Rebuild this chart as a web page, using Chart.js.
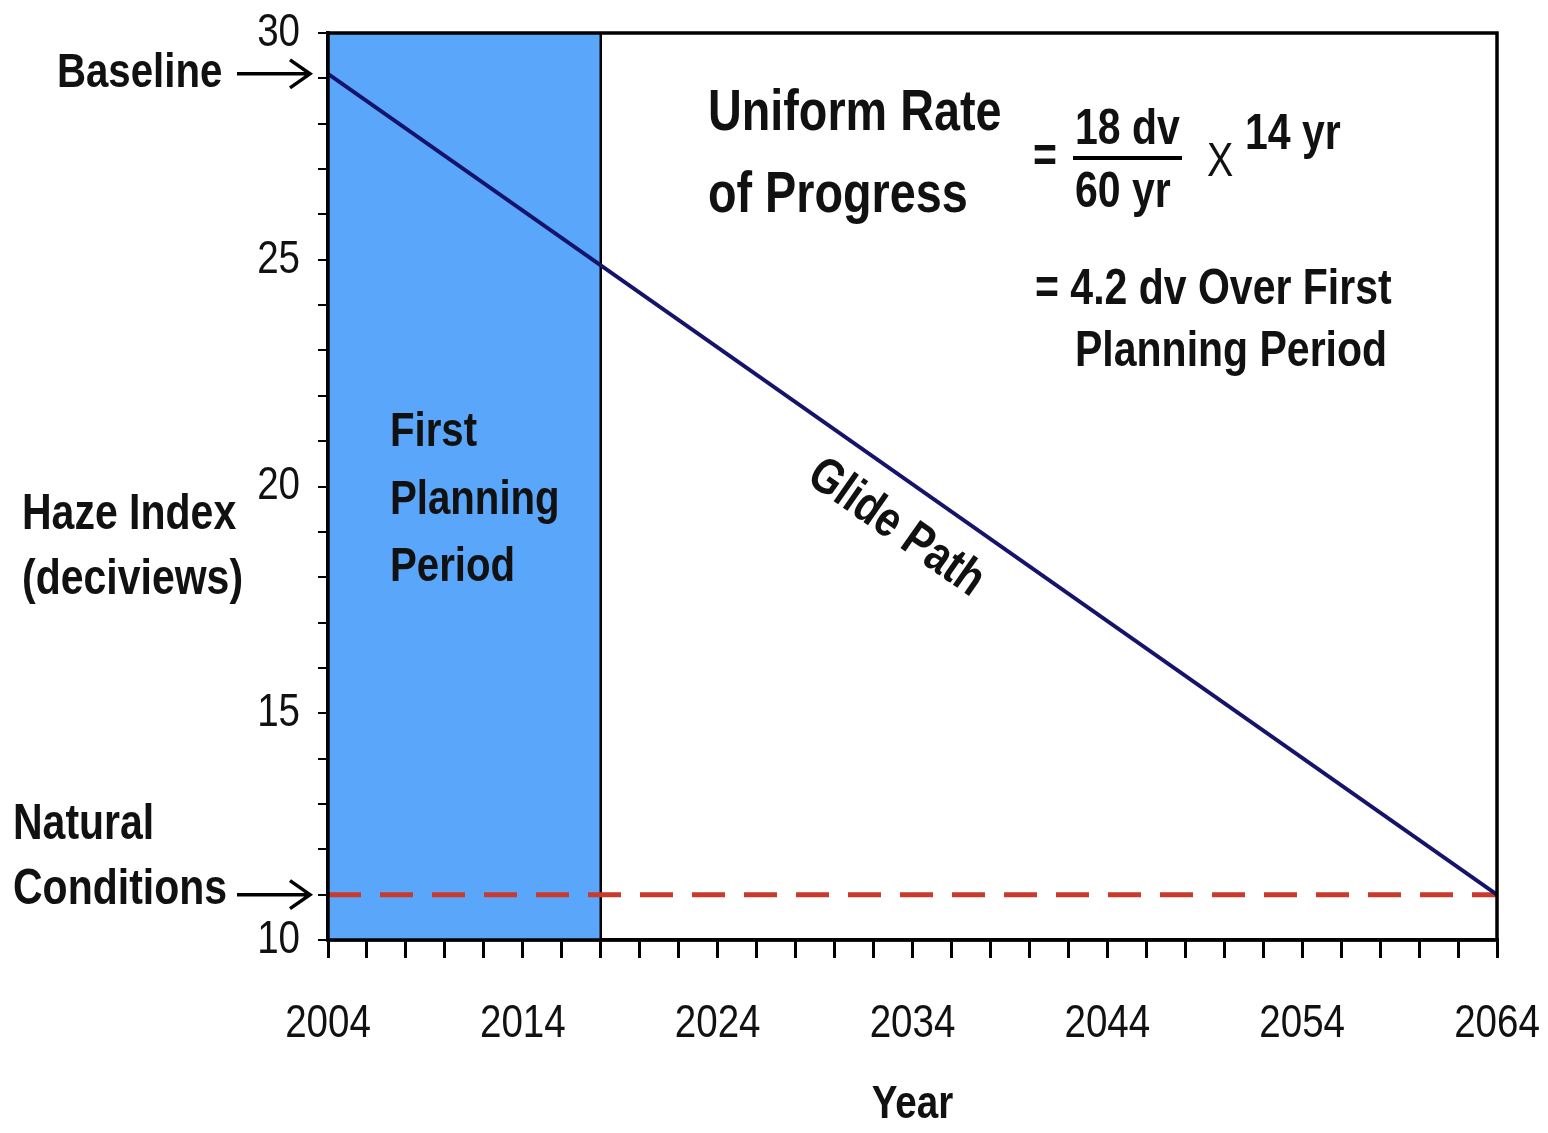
<!DOCTYPE html>
<html>
<head>
<meta charset="utf-8">
<script src="https://cdn.jsdelivr.net/npm/chart.js@4.4.1/dist/chart.umd.min.js"></script>
<style>
  html, body { margin: 0; padding: 0; background: #fff; }
  #wrap { width: 1548px; height: 1133px; }
</style>
</head>
<body>
<div id="wrap"><canvas id="hazeChart"></canvas></div>
<script>
// Regional haze glide path - baseline to natural conditions over 60 years
const years = [2004, 2064];
const glidePath = [29.1, 11.0];
const naturalConditions = [11.0, 11.0];
const planningPeriod = [2004, 2018];
const xTickLabels = [2004, 2014, 2024, 2034, 2044, 2054, 2064];
const yTickLabels = [10, 15, 20, 25, 30];

const FONT = '"Liberation Sans", Arial, sans-serif';
const NARROW = 0.82;   // no Arial Narrow here, so squeeze the text horizontally
const BLUE = '#5aa6fa';

// squeeze every label drawn while the chart paints (tick labels included)
const narrowText = {
  id: 'narrowText',
  beforeDraw(chart) {
    const ctx = chart.ctx;
    if (ctx._origFillText) return;
    ctx._origFillText = ctx.fillText;
    ctx.fillText = function (s, x, y, maxW) {
      const w = this.measureText(s).width * NARROW;
      return this._origFillText(s, x, y, maxW !== undefined ? Math.min(maxW, w) : w);
    };
  },
  afterDraw(chart) {
    const ctx = chart.ctx;
    if (ctx._origFillText) { ctx.fillText = ctx._origFillText; delete ctx._origFillText; }
  }
};

// free text, arrows and the frame round the plot
const annotations = {
  id: 'annotations',
  afterDatasetsDraw(chart) {
    const { ctx, chartArea, scales } = chart;
    const yBase = scales.y.getPixelForValue(glidePath[0]);
    const yNat = scales.y.getPixelForValue(naturalConditions[0]);

    ctx.save();
    ctx.strokeStyle = '#000';
    ctx.lineWidth = 3.5;
    ctx.strokeRect(chartArea.left, chartArea.top, chartArea.width, chartArea.height);

    ctx.fillStyle = '#111';
    ctx.textBaseline = 'middle';
    ctx.textAlign = 'left';
    const text = (s, x, y, size, weight) => {
      ctx.font = (weight || 'bold') + ' ' + size + 'px ' + FONT;
      ctx.fillText(s, x, y);
    };

    // left side labels
    text('Baseline', 57, yBase, 49);
    text('Haze Index', 22, 515, 50);
    text('(deciviews)', 22, 580, 50);
    text('Natural', 13, 825, 50);
    text('Conditions', 13, 890, 50);

    // arrows
    const arrow = (y) => {
      ctx.beginPath();
      ctx.moveTo(237, y); ctx.lineTo(310, y);
      ctx.moveTo(290, y - 14); ctx.lineTo(310, y); ctx.lineTo(290, y + 14);
      ctx.stroke();
    };
    ctx.lineWidth = 3.5;
    arrow(yBase);
    arrow(yNat);

    // planning period label
    text('First', 390, 432, 49);
    text('Planning', 390, 500, 49);
    text('Period', 390, 567, 49);

    // rate of progress formula
    text('Uniform Rate', 708, 114, 57);
    text('of Progress', 708, 196, 57);
    text('=', 1033, 158, 50);
    text('18 dv', 1075, 130, 50);
    ctx.lineWidth = 4;
    ctx.beginPath(); ctx.moveTo(1073, 158); ctx.lineTo(1182, 158); ctx.stroke();
    text('60 yr', 1075, 193, 50);
    text('X', 1207, 163, 48, 'normal');
    text('14 yr', 1245, 135, 50);
    text('= 4.2 dv Over First', 1035, 290, 50);
    text('Planning Period', 1075, 352, 50);

    // glide path label along the line
    ctx.translate(896, 528);
    ctx.rotate(35 * Math.PI / 180);
    ctx.textAlign = 'center';
    text('Glide Path', 0, 0, 50);
    ctx.restore();
  }
};

new Chart(document.getElementById('hazeChart'), {
  type: 'line',
  data: {
    datasets: [
      {
        label: 'Glide Path',
        data: years.map((x, i) => ({ x, y: glidePath[i] })),
        borderColor: '#15146a', borderWidth: 4, pointRadius: 0, order: 1
      },
      {
        label: 'Natural Conditions',
        data: years.map((x, i) => ({ x, y: naturalConditions[i] })),
        borderColor: '#c83a2c', borderWidth: 5, borderDash: [33, 19], pointRadius: 0, order: 2
      },
      {
        label: 'End of First Planning Period',
        data: [{ x: planningPeriod[1], y: 10 }, { x: planningPeriod[1], y: 30 }],
        borderColor: '#000', borderWidth: 2.5, pointRadius: 0, order: 3
      },
      {
        label: 'First Planning Period',
        data: planningPeriod.map(x => ({ x, y: 30 })),
        borderWidth: 0, borderColor: BLUE, backgroundColor: BLUE,
        fill: 'start', pointRadius: 0, order: 4
      }
    ]
  },
  options: {
    responsive: true,
    maintainAspectRatio: false,
    animation: false,
    layout: { padding: { left: 0, top: 33, right: 51, bottom: 0 } },
    plugins: { legend: { display: false }, tooltip: { enabled: false } },
    scales: {
      x: {
        type: 'linear', min: 2004, max: 2064,
        afterFit: s => { s.height = 193; s.paddingLeft = 0; s.paddingRight = 0; },
        ticks: {
          stepSize: 2, autoSkip: false, maxRotation: 0, padding: 38, color: '#111',
          font: { family: FONT, size: 47 },
          callback: v => xTickLabels.includes(v) ? String(v) : ''
        },
        grid: { drawOnChartArea: false, drawTicks: true, tickLength: 18, color: '#000', lineWidth: 3 },
        border: { display: true, color: '#000', width: 3.5 },
        title: {
          display: true, text: 'Year', color: '#111', padding: { top: 22, bottom: 0 },
          font: { family: FONT, size: 47, weight: 'bold' }
        }
      },
      y: {
        min: 10, max: 30,
        afterFit: s => { s.width = 328; s.paddingTop = 0; s.paddingBottom = 0; },
        ticks: {
          stepSize: 1, autoSkip: false, padding: 18, color: '#111',
          font: { family: FONT, size: 47 },
          callback: v => yTickLabels.includes(v) ? String(v) : ''
        },
        grid: { drawOnChartArea: false, drawTicks: true, tickLength: 10, color: '#000', lineWidth: 2 },
        border: { display: true, color: '#000', width: 3.5 }
      }
    }
  },
  plugins: [narrowText, annotations]
});
</script>
</body>
</html>
